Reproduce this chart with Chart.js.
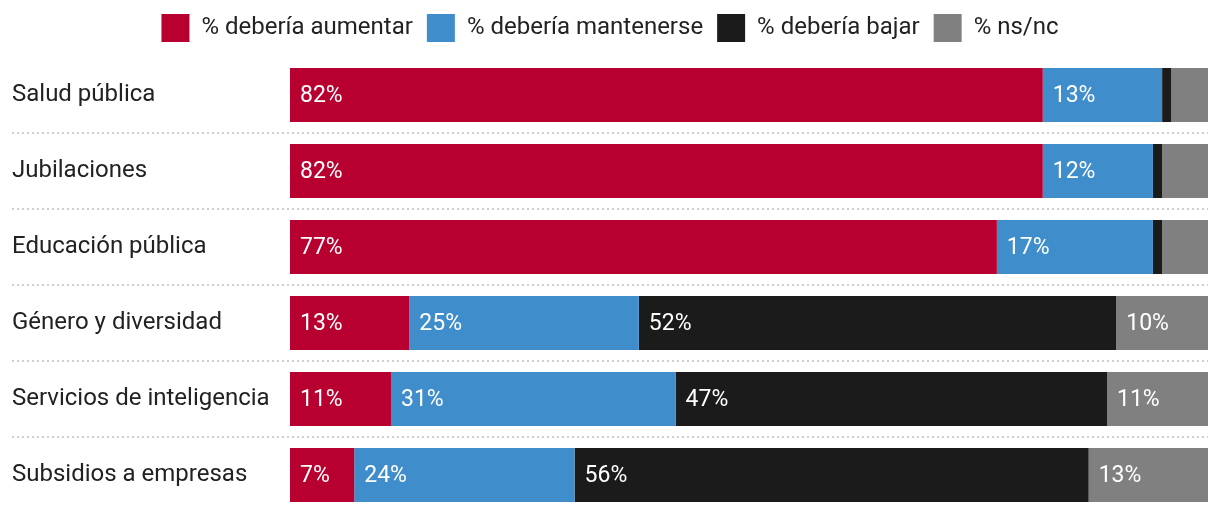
<!DOCTYPE html>
<html>
<head>
<meta charset="utf-8">
<script src="https://cdn.jsdelivr.net/npm/chart.js@4"></script>
<style>
    body { margin: 0; background: #fff; }
    #wrap { width: 1220px; height: 514px; }
</style>
</head>
<body>
<div id="wrap"><canvas id="chart"></canvas></div>
<script>
const categories = ['Salud pública', 'Jubilaciones', 'Educación pública', 'Género y diversidad', 'Servicios de inteligencia', 'Subsidios a empresas'];
const aumentar = [82, 82, 77, 13, 11, 7];
const mantenerse = [13, 12, 17, 25, 31, 24];
const bajar = [1, 1, 1, 52, 47, 56];
const nsnc = [4, 5, 5, 10, 11, 13];
const seriesNames = ['% debería aumentar', '% debería mantenerse', '% debería bajar', '% ns/nc'];
const seriesColors = ['#b70030', '#3f8dcb', '#1b1b1b', '#808080'];

const FONT = 'Roboto, "Liberation Sans", sans-serif';

// a bit more room under the legend
const legendGap = {
    id: 'legendGap',
    beforeInit(chart) {
        const fit = chart.legend.fit;
        chart.legend.fit = function () {
            fit.bind(chart.legend)();
            this.height += 5;
        };
    }
};

// dotted separators between rows, across the label column too
const separators = {
    id: 'separators',
    beforeDatasetsDraw(chart) {
        const ctx = chart.ctx;
        const y = chart.scales.y;
        ctx.save();
        ctx.strokeStyle = '#cfcfcf';
        ctx.lineWidth = 2;
        ctx.setLineDash([2, 3]);
        for (let i = 0; i < categories.length - 1; i++) {
            const py = Math.round(y.getPixelForValue(i + 0.5));
            ctx.beginPath();
            ctx.moveTo(12, py);
            ctx.lineTo(chart.chartArea.right, py);
            ctx.stroke();
        }
        ctx.restore();
    }
};

// percentage labels inside each segment
const segmentLabels = {
    id: 'segmentLabels',
    afterDatasetsDraw(chart) {
        const ctx = chart.ctx;
        ctx.save();
        ctx.fillStyle = '#ffffff';
        ctx.font = '23px ' + FONT;
        ctx.textBaseline = 'middle';
        ctx.textAlign = 'left';
        chart.data.datasets.forEach((ds, di) => {
            const meta = chart.getDatasetMeta(di);
            meta.data.forEach((bar, i) => {
                const v = ds.data[i];
                if (v < 6) return;
                const p = bar.getProps(['x', 'y', 'base'], true);
                ctx.fillText(v + '%', Math.min(p.x, p.base) + 10, p.y + 1);
            });
        });
        ctx.restore();
    }
};

const datasets = [aumentar, mantenerse, bajar, nsnc].map((d, i) => ({
    label: seriesNames[i],
    data: d,
    backgroundColor: seriesColors[i],
    borderWidth: 0,
    categoryPercentage: 1,
    barPercentage: 0.71
}));

new Chart(document.getElementById('chart'), {
    type: 'bar',
    data: { labels: categories, datasets: datasets },
    options: {
        indexAxis: 'y',
        responsive: true,
        maintainAspectRatio: false,
        animation: false,
        layout: { padding: { left: 12, right: 12, top: 0, bottom: 1 } },
        scales: {
            x: { stacked: true, min: 0, max: 100, display: false },
            y: {
                stacked: true,
                grid: { display: false },
                border: { display: false },
                afterFit(scale) {
                    scale.width = 278;
                    scale.paddingTop = 0;
                    scale.paddingBottom = 0;
                },
                ticks: {
                    crossAlign: 'far',
                    padding: 0,
                    color: '#222',
                    font: { family: FONT, size: 24 }
                }
            }
        },
        plugins: {
            legend: {
                position: 'top',
                labels: {
                    boxWidth: 28,
                    boxHeight: 28,
                    padding: 14,
                    color: '#222',
                    font: { family: FONT, size: 24 }
                }
            },
            tooltip: { enabled: false }
        }
    },
    plugins: [legendGap, separators, segmentLabels]
});
</script>
</body>
</html>
